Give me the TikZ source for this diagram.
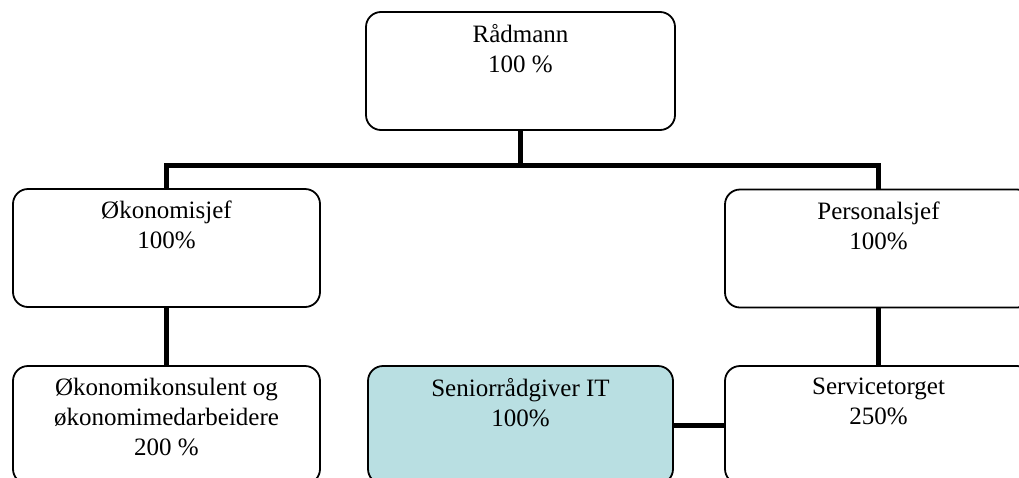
\documentclass[tikz,border=0pt]{standalone}
\usepackage{fontspec}
\setmainfont{Liberation Serif}
\definecolor{seniorfill}{RGB}{185,223,226}
\begin{document}
\begin{tikzpicture}[x=1pt,y=-1pt,
  orgbox/.style={draw=black,line width=1.8pt,rounded corners=15pt,minimum width=307pt,minimum height=118pt,inner sep=0pt,fill=white},
  orgtext/.style={anchor=north,align=center,inner sep=0pt,font=\fontsize{25}{30}\selectfont},
  conn/.style={draw=black,line width=5pt}]
\useasboundingbox (0,0) rectangle (1019,477);
\node[orgbox,minimum width=309pt] (R) at (520.5,71) {};
\node[orgbox] (E) at (166.5,248) {};
\node[orgbox] (P) at (878.5,248.5) {};
\node[orgbox] (EK) at (166.5,425) {};
\node[orgbox,minimum width=305pt,fill=seniorfill] (S) at (520.5,425) {};
\node[orgbox] (ST) at (878.5,425) {};
\coordinate (bus) at (520.5,165.5);
\draw[conn] (R.south) -- (bus);
\draw[conn] (E.north) |- (bus) -| (P.north);
\draw[conn] (E.south) -- (EK.north);
\draw[conn] (P.south) -- (ST.north);
\draw[conn] (S.east) -- (ST.west);
\node[orgtext] (tR) at ([yshift=-13pt]R.north) {Rådmann\\100 \%};
\node[orgtext] (tE) at ([yshift=-13pt]E.north) {Økonomisjef\\100\%};
\node[orgtext] (tP) at ([yshift=-13pt]P.north) {Personalsjef\\100\%};
\node[orgtext] (tEK) at ([yshift=-13pt]EK.north) {Økonomikonsulent og\\økonomimedarbeidere\\200 \%};
\node[orgtext] (tS) at ([yshift=-13pt]S.north) {Seniorrådgiver IT\\100\%};
\node[orgtext] (tST) at ([yshift=-13pt]ST.north) {Servicetorget\\250\%};
\end{tikzpicture}
\end{document}
